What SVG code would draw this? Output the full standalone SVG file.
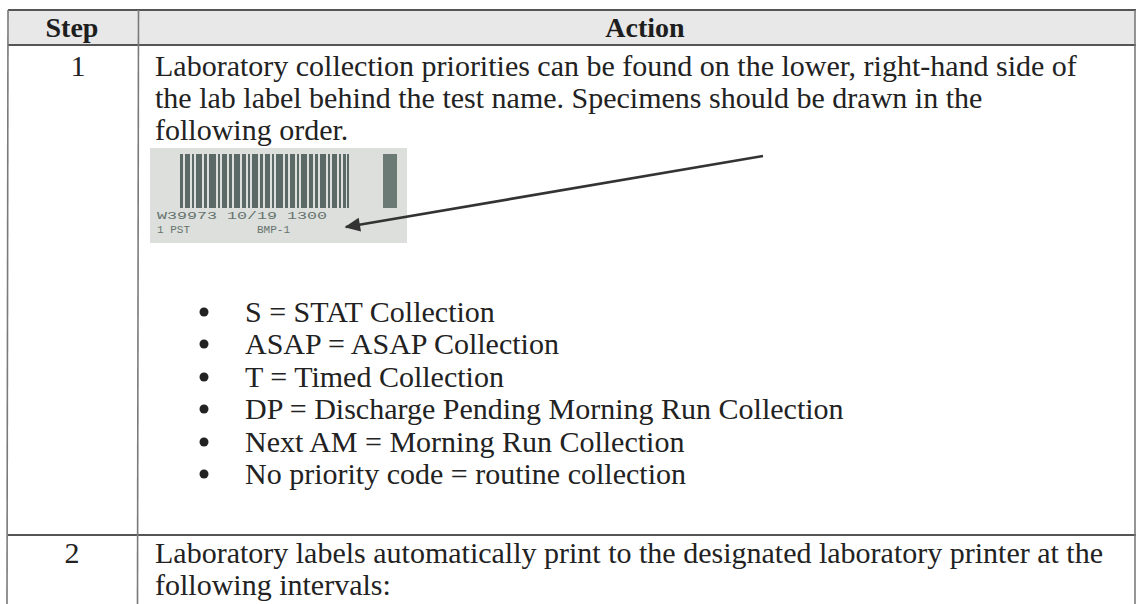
<svg xmlns="http://www.w3.org/2000/svg" width="1138" height="604" viewBox="0 0 1138 604">
  <style>
    .t { font-family: "Liberation Serif", "Times New Roman", serif; font-size: 30px; fill: #222; }
    .h { font-family: "Liberation Serif", "Times New Roman", serif; font-size: 28px; font-weight: bold; fill: #1e1e1e; }
    .hl { stroke: #555; stroke-width: 2; }
    .vl { stroke: #7a7a7a; stroke-width: 1.6; }
    .bar { fill: #5b6a66; }
    .lbl { font-family: "Liberation Mono", "Courier New", monospace; font-size: 11px; fill: #66736f; }
  </style>
  <defs>
    <marker id="ah" viewBox="0 0 10 10" refX="9" refY="5" markerWidth="7" markerHeight="6" orient="auto" markerUnits="strokeWidth">
      <path d="M0,0.5 L10,5 L0,9.5 z" fill="#333"/>
    </marker>
  </defs>
  <rect width="1138" height="604" fill="#ffffff"/>

  <g id="table-grid">
    <rect x="8" y="10" width="1127" height="35" fill="#e8e8e8"/>
    <line class="hl" x1="8" y1="10" x2="1136" y2="10"/>
    <line class="hl" x1="8" y1="45" x2="1136" y2="45"/>
    <line class="hl" x1="8" y1="535" x2="1136" y2="535"/>
    <line class="vl" x1="8" y1="10" x2="7" y2="604"/>
    <line class="vl" x1="138.5" y1="10" x2="137.5" y2="604"/>
    <line class="vl" x1="1135" y1="10" x2="1135" y2="604"/>
  </g>

  <g id="header">
    <text class="h" x="72" y="37" text-anchor="middle">Step</text>
    <text class="h" x="645" y="37" text-anchor="middle">Action</text>
  </g>

  <g id="step1">
    <text class="t" x="78" y="76" text-anchor="middle">1</text>
    <text class="t" x="155" y="76">Laboratory collection priorities can be found on the lower, right-hand side of</text>
    <text class="t" x="155" y="108">the lab label behind the test name.  Specimens should be drawn in the</text>
    <text class="t" x="155" y="140">following order.</text>
  </g>

  <g id="lab-label">
    <rect x="150" y="148" width="257" height="95" fill="#dcdfdb"/>
    <rect class="bar" x="180" y="154" width="3" height="54"/>
    <rect class="bar" x="185" y="154" width="5" height="54"/>
    <rect class="bar" x="192" y="154" width="2" height="54"/>
    <rect class="bar" x="196" y="154" width="6" height="54"/>
    <rect class="bar" x="204" y="154" width="3" height="54"/>
    <rect class="bar" x="209" y="154" width="7" height="54"/>
    <rect class="bar" x="218" y="154" width="2" height="54"/>
    <rect class="bar" x="222" y="154" width="5" height="54"/>
    <rect class="bar" x="229" y="154" width="3" height="54"/>
    <rect class="bar" x="234" y="154" width="6" height="54"/>
    <rect class="bar" x="242" y="154" width="4" height="54"/>
    <rect class="bar" x="248" y="154" width="2" height="54"/>
    <rect class="bar" x="252" y="154" width="6" height="54"/>
    <rect class="bar" x="260" y="154" width="3" height="54"/>
    <rect class="bar" x="265" y="154" width="5" height="54"/>
    <rect class="bar" x="272" y="154" width="2" height="54"/>
    <rect class="bar" x="276" y="154" width="7" height="54"/>
    <rect class="bar" x="285" y="154" width="3" height="54"/>
    <rect class="bar" x="290" y="154" width="5" height="54"/>
    <rect class="bar" x="297" y="154" width="2" height="54"/>
    <rect class="bar" x="301" y="154" width="6" height="54"/>
    <rect class="bar" x="309" y="154" width="4" height="54"/>
    <rect class="bar" x="315" y="154" width="3" height="54"/>
    <rect class="bar" x="320" y="154" width="6" height="54"/>
    <rect class="bar" x="328" y="154" width="2" height="54"/>
    <rect class="bar" x="332" y="154" width="5" height="54"/>
    <rect class="bar" x="339" y="154" width="2" height="54"/>
    <rect class="bar" x="343" y="154" width="3" height="54"/>
    <rect class="bar" x="347" y="154" width="2" height="54"/>
    <rect x="383" y="154" width="14" height="54" fill="#6b7a75"/>
    <text class="lbl" x="157" y="219" textLength="170" lengthAdjust="spacingAndGlyphs">W39973 10/19 1300</text>
    <text class="lbl" x="157" y="233">1 PST</text>
    <text class="lbl" x="257" y="233">BMP-1</text>
  </g>

  <g id="connectors">
    <line x1="763" y1="156" x2="346" y2="227" stroke="#333" stroke-width="2.6" marker-end="url(#ah)"/>
  </g>

  <g id="priority-list">
    <circle cx="204" cy="312" r="4.5" fill="#222"/>
    <text class="t" x="245" y="322">S = STAT Collection</text>
    <circle cx="204" cy="344" r="4.5" fill="#222"/>
    <text class="t" x="245" y="354">ASAP = ASAP Collection</text>
    <circle cx="204" cy="377" r="4.5" fill="#222"/>
    <text class="t" x="245" y="387">T = Timed Collection</text>
    <circle cx="204" cy="409" r="4.5" fill="#222"/>
    <text class="t" x="245" y="419">DP = Discharge Pending Morning Run Collection</text>
    <circle cx="204" cy="442" r="4.5" fill="#222"/>
    <text class="t" x="245" y="452">Next AM = Morning Run Collection</text>
    <circle cx="204" cy="474" r="4.5" fill="#222"/>
    <text class="t" x="245" y="484">No priority code = routine collection</text>
  </g>

  <g id="step2">
    <text class="t" x="72" y="563" text-anchor="middle">2</text>
    <text class="t" x="155" y="563">Laboratory labels automatically print to the designated laboratory printer at the</text>
    <text class="t" x="155" y="595">following intervals:</text>
  </g>
</svg>
